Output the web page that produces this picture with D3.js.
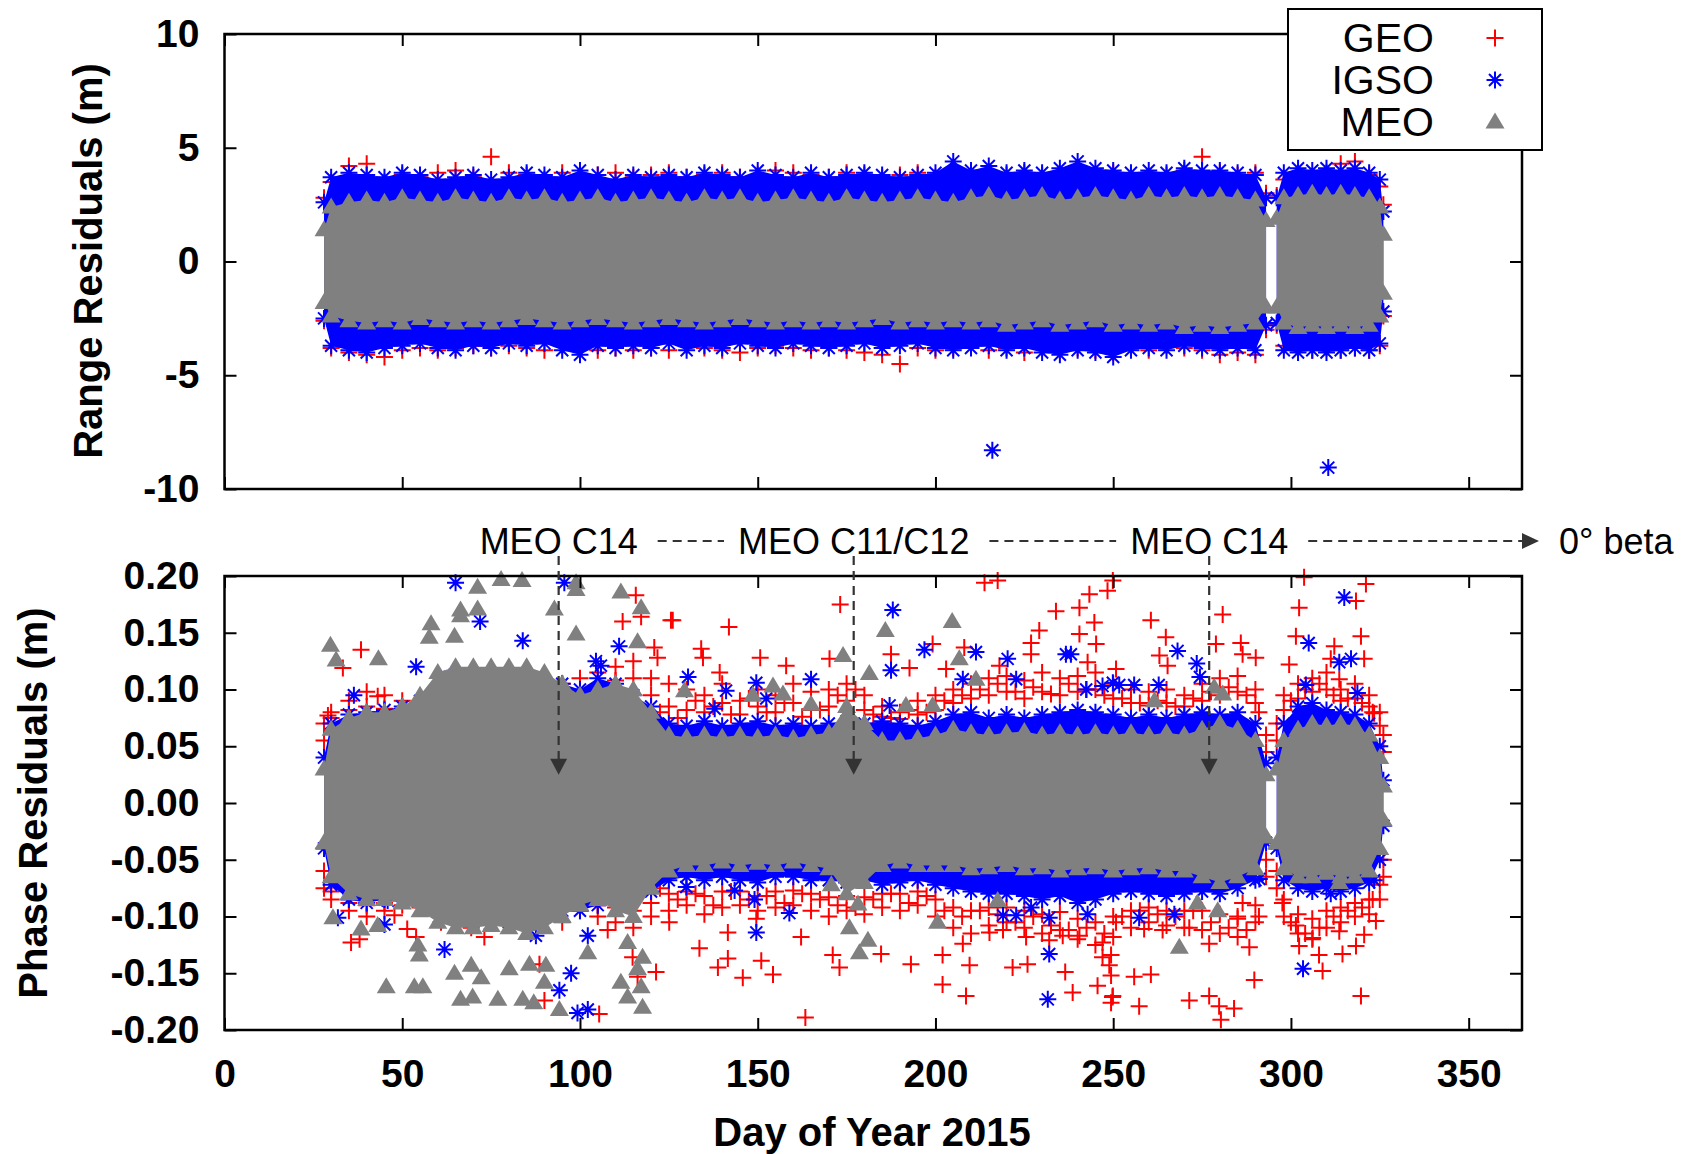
<!DOCTYPE html>
<html>
<head>
<meta charset="utf-8">
<script src="https://cdn.jsdelivr.net/npm/d3@7"></script>
<style>
body { margin: 0; background: #fff; }
svg { display: block; }
text { font-family: "Liberation Sans", Arial, sans-serif; }
</style>
</head>
<body>
<svg id="chart" width="1684" height="1154"></svg>
<script>
// day of year where the band envelopes were read (two observing spans)
var days = [28, 30, 35, 40, 45, 50, 55, 60, 65, 70,
  75, 80, 85, 90, 95, 100, 105, 110, 115, 120,
  125, 130, 135, 140, 145, 150, 155, 160, 165, 170,
  175, 180, 185, 190, 195, 200, 205, 210, 215, 220,
  225, 230, 235, 240, 245, 250, 255, 260, 265, 270,
  275, 280, 285, 290, 293,
  296, 298, 302, 306, 310, 314, 318, 322, 325, 326];

// range residuals (m), envelope of each group per day
var rangeMeoHi = [1.4, 2.4, 2.6, 2.7, 2.6, 2.8, 2.7, 2.6, 2.8, 2.7,
  2.6, 2.8, 2.7, 2.8, 2.6, 2.7, 2.8, 2.6, 2.7, 2.8,
  2.7, 2.6, 2.8, 2.7, 2.8, 2.6, 2.7, 2.8, 2.7, 2.6,
  2.8, 2.7, 2.6, 2.7, 2.8, 2.7, 2.6, 2.8, 2.9, 2.7,
  2.8, 2.9, 2.7, 2.8, 2.9, 2.8, 2.7, 2.9, 2.8, 2.9,
  2.8, 2.9, 2.8, 2.7, 1.8,
  1.9, 2.8, 2.9, 3.0, 2.9, 3.0, 2.9, 2.8, 2.4, 1.2];
var rangeMeoLo = [-1.8, -2.4, -2.6, -2.7, -2.6, -2.7, -2.5, -2.6, -2.7, -2.6,
  -2.7, -2.6, -2.5, -2.6, -2.7, -2.6, -2.5, -2.6, -2.7, -2.6,
  -2.5, -2.6, -2.7, -2.6, -2.5, -2.6, -2.7, -2.6, -2.7, -2.6,
  -2.7, -2.6, -2.5, -2.7, -2.6, -2.7, -2.6, -2.7, -2.6, -2.8,
  -2.7, -2.6, -2.8, -2.7, -2.6, -2.8, -2.7, -2.8, -2.7, -2.9,
  -2.8, -2.9, -2.8, -2.7, -2.0,
  -2.0, -2.7, -2.9, -2.8, -2.9, -2.8, -2.9, -2.8, -2.4, -1.4];
var rangeIgsoHi = [2.6, 3.7, 3.9, 3.8, 3.7, 3.9, 3.8, 3.6, 3.7, 3.8,
  3.6, 3.7, 3.9, 3.8, 3.7, 4.0, 3.8, 3.6, 3.8, 3.7,
  3.8, 3.7, 3.9, 3.8, 3.7, 4.0, 3.8, 3.7, 3.9, 3.7,
  3.8, 3.9, 3.8, 3.7, 3.8, 3.9, 4.4, 4.0, 4.2, 3.9,
  4.0, 3.9, 4.1, 4.4, 4.1, 4.0, 3.9, 4.0, 3.9, 4.1,
  4.0, 4.0, 3.9, 3.8, 2.8,
  2.8, 3.9, 4.1, 4.0, 4.1, 4.0, 4.1, 3.9, 3.6, 2.2];
var rangeIgsoLo = [-2.5, -3.7, -3.9, -4.0, -3.8, -3.7, -3.6, -3.8, -3.9, -3.7,
  -3.8, -3.6, -3.7, -3.6, -3.9, -4.1, -3.7, -3.8, -3.7, -3.8,
  -3.6, -3.9, -3.7, -3.8, -3.6, -3.7, -3.8, -3.6, -3.7, -3.8,
  -3.7, -3.6, -3.8, -3.7, -3.6, -3.8, -3.9, -3.8, -3.7, -3.9,
  -3.8, -4.0, -4.1, -3.9, -4.0, -4.2, -3.9, -3.8, -3.9, -3.7,
  -3.8, -3.9, -3.8, -3.9, -2.8,
  -2.7, -3.9, -4.0, -3.9, -4.0, -3.9, -3.8, -3.9, -3.6, -2.2];
var rangeGeoHi = [2.8, 3.5, 4.2, 4.3, 3.5, 3.8, 3.7, 3.9, 4.0, 3.7,
  4.6, 3.9, 3.8, 3.6, 3.9, 3.7, 3.8, 3.9, 3.7, 3.8,
  3.9, 3.7, 3.8, 3.9, 3.7, 3.8, 4.0, 3.9, 3.8, 3.7,
  3.9, 3.8, 3.7, 3.8, 3.9, 3.7, 3.8, 3.9, 3.7, 3.8,
  3.9, 3.8, 3.7, 3.9, 3.8, 3.9, 3.8, 3.7, 3.8, 4.0,
  4.6, 3.9, 3.8, 3.9, 3.0,
  2.9, 3.6, 3.8, 3.7, 3.9, 4.3, 4.4, 3.8, 3.3, 2.5];
var rangeGeoLo = [-2.6, -3.8, -4.0, -4.1, -4.2, -3.9, -3.8, -3.9, -3.8, -3.7,
  -3.8, -3.7, -3.8, -3.9, -3.7, -3.8, -3.9, -3.8, -3.9, -3.8,
  -3.9, -3.7, -3.8, -3.9, -4.0, -3.8, -3.7, -3.8, -3.9, -3.8,
  -3.9, -4.0, -4.1, -4.5, -3.8, -3.9, -3.8, -3.7, -3.9, -3.8,
  -4.0, -3.8, -3.9, -3.8, -3.9, -4.0, -3.8, -3.9, -3.7, -3.8,
  -3.9, -4.1, -4.0, -4.1, -3.0,
  -2.8, -3.7, -3.8, -3.9, -3.8, -3.9, -3.8, -3.9, -3.7, -2.4];
var rangeIgsoOut = [[216, -8.3], [310.5, -9.06]];

// phase residuals (m), envelope of each group per day
var phaseMeoHi = [0.030, 0.065, 0.075, 0.080, 0.080, 0.085, 0.095, 0.115, 0.120, 0.120,
  0.120, 0.120, 0.120, 0.115, 0.105, 0.095, 0.100, 0.105, 0.100, 0.080,
  0.060, 0.058, 0.060, 0.058, 0.060, 0.058, 0.060, 0.057, 0.060, 0.062,
  0.085, 0.070, 0.055, 0.055, 0.057, 0.060, 0.065, 0.062, 0.060, 0.062,
  0.063, 0.060, 0.062, 0.060, 0.062, 0.060, 0.062, 0.060, 0.062, 0.060,
  0.065, 0.070, 0.065, 0.055, 0.025,
  0.030, 0.055, 0.065, 0.070, 0.068, 0.070, 0.068, 0.060, 0.040, 0.015];
var phaseMeoLo = [-0.035, -0.065, -0.080, -0.085, -0.085, -0.088, -0.095, -0.105, -0.110, -0.110,
  -0.108, -0.110, -0.115, -0.110, -0.100, -0.090, -0.085, -0.095, -0.100, -0.075,
  -0.060, -0.055, -0.055, -0.052, -0.055, -0.053, -0.055, -0.052, -0.055, -0.058,
  -0.080, -0.070, -0.055, -0.052, -0.055, -0.055, -0.055, -0.058, -0.057, -0.055,
  -0.058, -0.057, -0.060, -0.058, -0.057, -0.060, -0.058, -0.057, -0.060, -0.060,
  -0.065, -0.070, -0.065, -0.058, -0.030,
  -0.035, -0.058, -0.065, -0.065, -0.062, -0.065, -0.065, -0.060, -0.040, -0.015];
var phaseIgsoHi = [0.040, 0.070, 0.078, 0.080, 0.082, 0.085, 0.090, 0.100, 0.110, 0.112,
  0.110, 0.110, 0.105, 0.100, 0.105, 0.100, 0.110, 0.105, 0.095, 0.085,
  0.070, 0.068, 0.072, 0.068, 0.070, 0.072, 0.068, 0.070, 0.068, 0.070,
  0.072, 0.070, 0.072, 0.070, 0.068, 0.072, 0.078, 0.080, 0.075, 0.078,
  0.075, 0.078, 0.080, 0.082, 0.080, 0.078, 0.075, 0.078, 0.075, 0.078,
  0.080, 0.078, 0.080, 0.070, 0.035,
  0.040, 0.070, 0.085, 0.088, 0.082, 0.080, 0.078, 0.070, 0.050, 0.020];
var phaseIgsoLo = [-0.040, -0.072, -0.085, -0.088, -0.085, -0.082, -0.085, -0.090, -0.095, -0.095,
  -0.100, -0.105, -0.105, -0.100, -0.095, -0.095, -0.090, -0.085, -0.085, -0.078,
  -0.068, -0.065, -0.068, -0.065, -0.068, -0.070, -0.065, -0.065, -0.068, -0.068,
  -0.070, -0.068, -0.072, -0.070, -0.068, -0.072, -0.075, -0.078, -0.080, -0.080,
  -0.082, -0.085, -0.082, -0.088, -0.085, -0.080, -0.078, -0.080, -0.082, -0.080,
  -0.078, -0.080, -0.075, -0.068, -0.035,
  -0.040, -0.068, -0.075, -0.078, -0.075, -0.078, -0.075, -0.070, -0.050, -0.020];
var phaseGeoHi = [0.070, 0.080, 0.090, 0.098, 0.095, 0.090, 0.085, 0.090, 0.095, 0.085,
  0.095, 0.090, 0.095, 0.100, 0.105, 0.110, 0.115, 0.120, 0.125, 0.110,
  0.105, 0.100, 0.095, 0.105, 0.090, 0.100, 0.095, 0.105, 0.098, 0.100,
  0.105, 0.095, 0.085, 0.080, 0.090, 0.095, 0.100, 0.105, 0.110, 0.112,
  0.108, 0.115, 0.110, 0.112, 0.115, 0.105, 0.100, 0.098, 0.100, 0.095,
  0.105, 0.110, 0.112, 0.100, 0.060,
  0.070, 0.095, 0.105, 0.110, 0.115, 0.100, 0.105, 0.095, 0.080, 0.060];
var phaseGeoHi2 = [0.055, 0.075, 0.082, 0.085, 0.083, 0.080, 0.078, 0.082, 0.085, 0.080,
  0.085, 0.082, 0.085, 0.088, 0.092, 0.098, 0.100, 0.108, 0.110, 0.095,
  0.085, 0.082, 0.080, 0.088, 0.078, 0.085, 0.080, 0.088, 0.082, 0.085,
  0.090, 0.082, 0.076, 0.074, 0.078, 0.082, 0.088, 0.092, 0.095, 0.098,
  0.092, 0.098, 0.095, 0.098, 0.100, 0.092, 0.088, 0.086, 0.088, 0.085,
  0.090, 0.095, 0.098, 0.088, 0.045,
  0.055, 0.082, 0.092, 0.098, 0.100, 0.090, 0.092, 0.085, 0.068, 0.045];
var phaseGeoLo = [-0.075, -0.085, -0.095, -0.100, -0.095, -0.090, -0.092, -0.095, -0.090, -0.098,
  -0.095, -0.090, -0.095, -0.100, -0.105, -0.095, -0.100, -0.105, -0.110, -0.100,
  -0.095, -0.090, -0.098, -0.092, -0.090, -0.095, -0.092, -0.090, -0.095, -0.100,
  -0.095, -0.098, -0.092, -0.095, -0.090, -0.100, -0.110, -0.115, -0.108, -0.105,
  -0.110, -0.115, -0.112, -0.120, -0.125, -0.118, -0.110, -0.105, -0.108, -0.110,
  -0.112, -0.115, -0.118, -0.105, -0.065,
  -0.075, -0.100, -0.115, -0.120, -0.110, -0.105, -0.100, -0.098, -0.085, -0.065];
var phaseGeoLo2 = [-0.060, -0.078, -0.088, -0.090, -0.088, -0.082, -0.085, -0.088, -0.085, -0.088,
  -0.088, -0.085, -0.088, -0.090, -0.092, -0.088, -0.090, -0.092, -0.095, -0.088,
  -0.080, -0.078, -0.082, -0.078, -0.078, -0.082, -0.078, -0.077, -0.080, -0.083,
  -0.082, -0.083, -0.080, -0.080, -0.078, -0.085, -0.092, -0.095, -0.092, -0.092,
  -0.095, -0.098, -0.096, -0.102, -0.105, -0.100, -0.095, -0.092, -0.095, -0.095,
  -0.095, -0.098, -0.100, -0.090, -0.050,
  -0.060, -0.085, -0.098, -0.102, -0.095, -0.092, -0.088, -0.085, -0.072, -0.050];

// GEO cloud read on an in-between day grid (dense red layer after day 120)
var geoMidDays = [122.5, 127.5, 132.5, 137.5, 142.5, 147.5, 152.5, 157.5, 162.5, 167.5,
  172.5, 177.5, 182.5, 187.5, 192.5, 197.5, 202.5, 207.5, 212.5, 217.5,
  222.5, 227.5, 232.5, 237.5, 242.5, 247.5, 252.5, 257.5, 262.5, 267.5,
  272.5, 277.5, 282.5, 287.5, 291, 300, 304, 308, 312, 316, 320, 323];
var geoMidHi = [0.080, 0.075, 0.090, 0.085, 0.078, 0.092, 0.080, 0.088, 0.076, 0.082,
  0.095, 0.100, 0.078, 0.075, 0.082, 0.080, 0.090, 0.095, 0.100, 0.105,
  0.098, 0.102, 0.096, 0.105, 0.100, 0.095, 0.092, 0.088, 0.090, 0.085,
  0.092, 0.098, 0.102, 0.095, 0.080, 0.090, 0.100, 0.105, 0.095, 0.092, 0.088, 0.080];
var geoMidLo = [-0.075, -0.085, -0.080, -0.090, -0.078, -0.085, -0.082, -0.088, -0.080, -0.085,
  -0.090, -0.092, -0.085, -0.080, -0.088, -0.082, -0.095, -0.100, -0.095, -0.098,
  -0.105, -0.100, -0.108, -0.112, -0.110, -0.115, -0.100, -0.095, -0.098, -0.100,
  -0.095, -0.105, -0.110, -0.112, -0.100, -0.105, -0.115, -0.110, -0.100, -0.095, -0.092, -0.085];

// scattered phase points [day, m]
var phaseGeoOut = [[38.4, 0.135], [33.3, 0.119], [115.7, 0.183], [112, 0.160], [117.2, 0.164], [125.6, 0.161],
  [120.9, 0.137], [121.8, 0.128], [29.1, 0.077], [43.1, 0.094], [35.6, -0.123], [38, -0.120], [51.4, -0.111],
  [53.9, -0.118], [69.4, -0.110], [73.1, -0.118], [88.6, -0.142], [90, -0.174], [105.4, -0.186], [107.8, -0.112],
  [114.8, -0.136], [116.2, -0.153], [121.4, -0.149], [125.1, -0.105], [47.8, -0.099], [60.9, -0.105],
  [126.1, 0.161], [141.9, 0.155], [134.1, 0.136], [134.6, 0.128], [150.7, 0.128], [173.2, 0.175], [139.3, 0.115],
  [158, 0.121], [170.2, 0.127], [187.5, 0.131], [192.7, 0.119], [199.2, 0.140], [208.1, 0.137], [213.8, 0.194],
  [217.5, 0.196], [233.9, 0.169], [229.2, 0.152], [226.9, 0.141], [240.5, 0.172], [244.7, 0.159], [243.3, 0.184],
  [248.4, 0.187], [249.9, 0.196], [240.5, 0.149], [245.2, 0.140], [242.8, 0.124], [226.9, 0.131], [218, 0.121],
  [203, 0.118], [133.6, -0.128], [138.8, -0.145], [141.6, -0.137], [145.8, -0.154], [151, -0.139], [154.3, -0.151],
  [163.4, -0.189], [162.2, -0.118], [171.1, -0.134], [173, -0.145], [184.7, -0.133], [193.1, -0.142], [202, -0.160],
  [202, -0.134], [208.6, -0.170], [209.6, -0.143], [221.7, -0.145], [225.9, -0.142], [236.5, -0.149], [238.6, -0.167],
  [245.6, -0.161], [249.9, -0.170], [249.4, -0.176], [232, -0.121], [215.2, -0.114], [207.7, -0.124], [247, -0.136],
  [248.9, -0.143], [219, -0.112], [225.5, -0.118], [235.8, -0.117], [240.5, -0.117], [247, -0.123], [141.6, -0.114],
  [149.6, -0.102], [250.8, -0.105],
  [260.6, 0.161], [264.8, 0.146], [263, 0.130], [265.3, 0.121], [280.8, 0.166], [278.9, 0.140], [285.9, 0.141],
  [286.4, 0.131], [290.1, 0.128], [303.7, 0.199], [321.1, 0.193], [318.3, 0.178], [302.3, 0.172], [301.4, 0.147],
  [312.2, 0.138], [319.7, 0.147], [320.6, 0.127], [299.5, 0.122], [311.2, 0.127], [313.6, 0.109], [323.4, 0.079],
  [250.8, 0.118], [258.7, -0.111], [263.9, -0.112], [271.4, -0.110], [277, -0.124], [288.3, -0.127], [255.9, -0.153],
  [260.6, -0.151], [271.4, -0.174], [277, -0.170], [279.8, -0.179], [280.3, -0.191], [284, -0.181], [289.7, -0.156],
  [249.8, -0.171], [257.3, -0.179], [249.4, -0.152], [249.4, -0.134], [302.3, -0.126], [306.1, -0.119], [307.9, -0.134],
  [308.9, -0.148], [314.5, -0.133], [318.3, -0.126], [320.6, -0.116], [319.7, -0.170], [323.9, -0.104], [313.6, -0.113],
  [301.4, -0.108], [297.6, -0.088], [285, -0.102], [286.4, -0.088]];
var phaseIgsoOut = [[65, 0.194], [71.9, 0.160], [83.9, 0.143], [95.6, 0.194], [111, 0.138], [53.9, 0.120],
  [36.4, 0.095], [63.3, 0.111], [104.5, 0.125], [105.9, 0.121], [45.9, -0.086], [45, -0.107], [97.5, -0.150],
  [94.2, -0.165], [99.3, -0.185], [102.2, -0.182], [61.9, -0.129], [87.6, -0.117], [102.2, -0.117], [31.9, -0.101],
  [130.4, 0.111], [141.1, 0.099], [149.6, 0.106], [165, 0.109], [152.4, 0.092], [137.9, 0.083], [188, 0.170],
  [196.9, 0.135], [187.5, 0.117], [211.4, 0.133], [220.3, 0.127], [236.7, 0.131], [238.1, 0.131], [207.7, 0.109],
  [222.7, 0.109], [242.4, 0.100], [247, 0.103], [249.9, 0.106], [187.1, 0.086], [149.6, -0.114], [158.9, -0.097],
  [149.1, -0.085], [232, -0.133], [231.6, -0.173], [219, -0.099], [222.7, -0.099], [232, -0.101], [242.8, -0.098],
  [226.9, -0.092], [129.9, -0.074], [143.5, -0.077],
  [315, 0.181], [305, 0.141], [268.1, 0.134], [273.5, 0.123], [274.4, 0.111], [313.6, 0.124], [316.9, 0.127],
  [318.7, 0.097], [304.2, 0.104], [255.9, 0.104], [262.8, 0.104], [251.7, 0.104], [303.4, -0.146], [257.3, -0.101],
  [267.2, -0.098], [311.2, -0.080], [323.4, -0.068], [291.1, -0.067]];
var phaseMeoOut = [[29.8, 0.139], [31.4, 0.126], [43.3, 0.127], [58.1, 0.158], [57.6, 0.146], [66.4, 0.170],
  [66.4, 0.165], [71.2, 0.190], [77.8, 0.197], [83.7, 0.196], [71.2, 0.171], [64.7, 0.147], [98.9, 0.194],
  [98.9, 0.188], [92.8, 0.171], [98.9, 0.149], [111.5, 0.186], [117.2, 0.172], [116.2, 0.142],
  [45.5, -0.162], [53.4, -0.162], [55.8, -0.162], [66.4, -0.173], [69.8, -0.171], [76.9, -0.173], [83.9, -0.173],
  [87, -0.176], [94.2, -0.182], [111.5, -0.158], [113.4, -0.171], [117.6, -0.180], [117.2, -0.162], [117.6, -0.136],
  [54.4, -0.125], [54.8, -0.134], [64.7, -0.150], [69.4, -0.143], [72.2, -0.154], [80.1, -0.146], [85.8, -0.142],
  [90, -0.158], [90.4, -0.143], [102.2, -0.132], [113.4, -0.123], [116.2, -0.146], [30.5, -0.101], [38.4, -0.111],
  [43.1, -0.108],
  [185.9, 0.152], [204.7, 0.160], [174, 0.130], [181.4, 0.114], [206.7, 0.127], [129.4, 0.099], [154.3, 0.103],
  [157.1, 0.096], [211.4, 0.109], [148.6, 0.095], [165, 0.087], [191.7, 0.086], [199.2, 0.086], [178.2, -0.089],
  [175.8, -0.110], [181, -0.121], [178.6, -0.132], [200.6, -0.105], [217.5, -0.086], [170.7, -0.072],
  [268.6, -0.127], [279.4, -0.095], [273.7, -0.088], [278.4, 0.102], [280.8, 0.096], [261.6, 0.090], [313.6, -0.070]];

var betaDays = [94, 177, 277];
var betaLabels = ["MEO C14", "MEO C11/C12", "MEO C14"];
var betaTip = 0.025;

var xTicks = [0, 50, 100, 150, 200, 250, 300, 350];
var rangeTicks = [-10, -5, 0, 5, 10];
var phaseTicks = [-0.20, -0.15, -0.10, -0.05, 0, 0.05, 0.10, 0.15, 0.20];
var legendNames = ["GEO", "IGSO", "MEO"];

var RED = "#ff0000", BLUE = "#0000ff", GRAY = "#808080", DARK = "#333333";

var svg = d3.select("#chart");
svg.append("rect").attr("width", 1684).attr("height", 1154).attr("fill", "#fff");

var x = d3.scaleLinear().domain([0, 365]).range([224.5, 1522]);
var yRange = d3.scaleLinear().domain([-10, 10]).range([489, 34]);
var yPhase = d3.scaleLinear().domain([-0.2, 0.2]).range([1030, 576]);

var shapes = {
  plus: "M-8.5,0H8.5M0,-8.5V8.5",
  star: "M-8.5,0H8.5M0,-8.5V8.5M-6,-6L6,6M-6,6L6,-6",
  tri: "M0,-9.5L9.5,6.5H-9.5Z"
};

function pairs(vals, at) {
  at = at || days;
  return at.map(function(d, i) { return [d, vals[i]]; });
}

// split rows into the two observing spans so the areas leave the gap
var rows = days.map(function(d, i) { return {day: d, i: i}; });
var spans = d3.groups(rows, function(d) { return d.day > 294 ? 1 : 0; }).map(function(g) { return g[1]; });

function band(g, y, lo, hi, color) {
  var area = d3.area()
    .x(function(d) { return x(d.day); })
    .y0(function(d) { return y(lo[d.i]); })
    .y1(function(d) { return y(hi[d.i]); });
  g.append("g").selectAll("path").data(spans).enter().append("path")
    .attr("d", area).attr("fill", color);
}

function marks(g, pts, y, shape, color) {
  g.append("g").selectAll("path").data(pts).enter().append("path")
    .attr("transform", function(d) { return "translate(" + x(d[0]) + "," + y(d[1]) + ")"; })
    .attr("d", shapes[shape])
    .attr("fill", shape == "tri" ? color : "none")
    .attr("stroke", shape == "tri" ? "none" : color)
    .attr("stroke-width", 2);
}

function frame(y, ticks, fmt, showX) {
  var g = svg.append("g");
  var y0 = y.range()[1], y1 = y.range()[0];
  var left = x.range()[0], right = x.range()[1];

  g.append("g").attr("transform", "translate(0," + y1 + ")")
    .call(d3.axisBottom(x).tickValues(xTicks).tickSizeInner(-12).tickSizeOuter(0)
      .tickPadding(showX ? 29 : 0).tickFormat(showX ? function(d) { return d; } : ""));
  g.append("g").attr("transform", "translate(0," + y0 + ")")
    .call(d3.axisTop(x).tickValues(xTicks).tickSizeInner(-12).tickSizeOuter(0).tickFormat(""));
  g.append("g").attr("transform", "translate(" + left + ",0)")
    .call(d3.axisLeft(y).tickValues(ticks).tickSizeInner(-12).tickSizeOuter(0).tickPadding(25).tickFormat(fmt));
  g.append("g").attr("transform", "translate(" + right + ",0)")
    .call(d3.axisRight(y).tickValues(ticks).tickSizeInner(-12).tickSizeOuter(0).tickFormat(""));

  g.selectAll(".domain").remove();
  g.selectAll(".tick line").attr("stroke", "#000").attr("stroke-width", 2);
  g.selectAll(".tick text").attr("fill", "#000").style("font-size", "39px").style("font-weight", "bold")
    .style("font-family", "'Liberation Sans', Arial, sans-serif");

  g.append("rect").attr("x", left).attr("y", y0)
    .attr("width", right - left).attr("height", y1 - y0)
    .attr("fill", "none").attr("stroke", "#000").attr("stroke-width", 2.5);
}

// ---- top: range residuals ----
var rangeG = svg.append("g");
marks(rangeG, pairs(rangeGeoHi).concat(pairs(rangeGeoLo)), yRange, "plus", RED);
band(rangeG, yRange, rangeIgsoLo, rangeIgsoHi, BLUE);
marks(rangeG, pairs(rangeIgsoHi).concat(pairs(rangeIgsoLo), rangeIgsoOut), yRange, "star", BLUE);
band(rangeG, yRange, rangeMeoLo, rangeMeoHi, GRAY);
marks(rangeG, pairs(rangeMeoHi).concat(pairs(rangeMeoLo)), yRange, "tri", GRAY);
frame(yRange, rangeTicks, function(d) { return String(d); }, false);

// ---- bottom: phase residuals ----
var phaseG = svg.append("g");
marks(phaseG, pairs(phaseGeoHi).concat(pairs(phaseGeoHi2), pairs(phaseGeoLo), pairs(phaseGeoLo2),
  pairs(geoMidHi, geoMidDays), pairs(geoMidLo, geoMidDays), phaseGeoOut), yPhase, "plus", RED);
band(phaseG, yPhase, phaseIgsoLo, phaseIgsoHi, BLUE);
marks(phaseG, pairs(phaseIgsoHi).concat(pairs(phaseIgsoLo), phaseIgsoOut), yPhase, "star", BLUE);
band(phaseG, yPhase, phaseMeoLo, phaseMeoHi, GRAY);
marks(phaseG, pairs(phaseMeoHi).concat(pairs(phaseMeoLo), phaseMeoOut), yPhase, "tri", GRAY);
frame(yPhase, phaseTicks, function(d) { return d.toFixed(2); }, true);

// ---- beta angle annotations ----
var ann = svg.append("g");
var annY = 541;
var labels = ann.selectAll("text.beta").data(betaDays).enter().append("text")
  .attr("class", "beta")
  .attr("x", function(d) { return x(d); }).attr("y", annY).attr("dy", "0.35em")
  .attr("text-anchor", "middle").style("font-size", "36px").attr("fill", "#000")
  .text(function(d, i) { return betaLabels[i]; });

ann.append("text").attr("x", 1559).attr("y", annY).attr("dy", "0.35em")
  .style("font-size", "36px").attr("fill", "#000").text("0\u00b0 beta");

var edges = [];
labels.each(function() { var b = this.getBBox(); edges.push([b.x, b.x + b.width]); });
var segs = [];
for (var k = 0; k < edges.length; k++) {
  var from = edges[k][1] + 20;
  var to = k + 1 < edges.length ? edges[k + 1][0] - 14 : 1524;
  segs.push([from, to]);
}
ann.selectAll("line.h").data(segs).enter().append("line")
  .attr("x1", function(d) { return d[0]; }).attr("x2", function(d) { return d[1]; })
  .attr("y1", annY).attr("y2", annY)
  .attr("stroke", DARK).attr("stroke-width", 2.2).attr("stroke-dasharray", "9,6");
ann.append("path").attr("d", "M1522," + (annY - 8) + "L1539," + annY + "L1522," + (annY + 8) + "Z").attr("fill", DARK);

ann.selectAll("line.v").data(betaDays).enter().append("line")
  .attr("x1", function(d) { return x(d); }).attr("x2", function(d) { return x(d); })
  .attr("y1", 556).attr("y2", yPhase(betaTip) - 14)
  .attr("stroke", DARK).attr("stroke-width", 2.2).attr("stroke-dasharray", "9,6");
ann.selectAll("path.head").data(betaDays).enter().append("path")
  .attr("d", function(d) {
    var tx = x(d), ty = yPhase(betaTip);
    return "M" + (tx - 8.5) + "," + (ty - 16) + "L" + (tx + 8.5) + "," + (ty - 16) + "L" + tx + "," + ty + "Z";
  })
  .attr("fill", DARK);

// ---- axis titles ----
svg.append("text").attr("transform", "translate(88,261) rotate(-90)").attr("dy", "0.35em")
  .attr("text-anchor", "middle").style("font-size", "40px").style("font-weight", "bold")
  .text("Range Residuals (m)");
svg.append("text").attr("transform", "translate(33,803) rotate(-90)").attr("dy", "0.35em")
  .attr("text-anchor", "middle").style("font-size", "40px").style("font-weight", "bold")
  .text("Phase Residuals (m)");
svg.append("text").attr("x", 872).attr("y", 1132).attr("dy", "0.35em")
  .attr("text-anchor", "middle").style("font-size", "40px").style("font-weight", "bold")
  .text("Day of Year 2015");

// ---- legend ----
var leg = svg.append("g");
leg.append("rect").attr("x", 1288).attr("y", 9).attr("width", 254).attr("height", 141)
  .attr("fill", "#fff").attr("stroke", "#000").attr("stroke-width", 2);
var legShapes = ["plus", "star", "tri"], legColors = [RED, BLUE, GRAY];
legendNames.forEach(function(name, i) {
  var cy = 38 + i * 42;
  leg.append("text").attr("x", 1434).attr("y", cy).attr("dy", "0.35em")
    .attr("text-anchor", "end").style("font-size", "41px").text(name);
  leg.append("path").attr("transform", "translate(1495," + cy + ")")
    .attr("d", shapes[legShapes[i]])
    .attr("fill", legShapes[i] == "tri" ? legColors[i] : "none")
    .attr("stroke", legShapes[i] == "tri" ? "none" : legColors[i])
    .attr("stroke-width", 2);
});
</script>
</body>
</html>
